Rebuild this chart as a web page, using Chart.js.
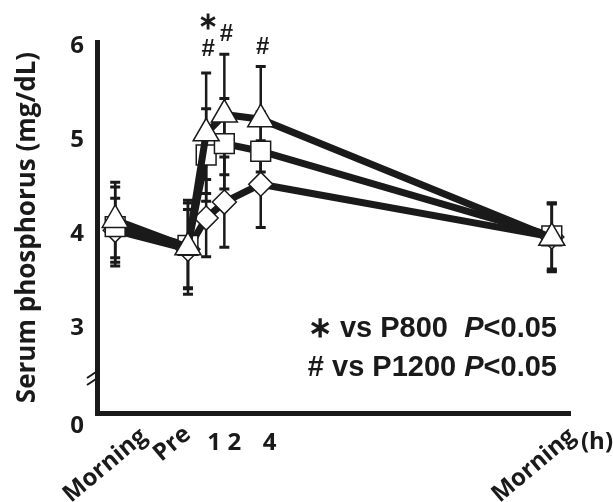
<!DOCTYPE html>
<html>
<head>
<meta charset="utf-8">
<script src="https://cdn.jsdelivr.net/npm/chart.js@4.4.0/dist/chart.umd.min.js"></script>
<style>
   html, body { margin: 0; padding: 0; background: #fff; }
   #wrap { width: 613px; height: 502px; }
</style>
</head>
<body>
<div id="wrap"><canvas id="phosChart"></canvas></div>
<script>
// time points (h) and their labels
const hours = [-4, 0, 1, 2, 4, 20];
const xTickLabels = ["Morning", "Pre", "1", "2", "4", "Morning"];
const yTickValues = [3, 4, 5, 6];

// serum phosphorus, mean and SD (mg/dL)
const p800Mean  = [4.04, 3.84, 4.17, 4.34, 4.53, 3.97];
const p800Sd    = [0.34, 0.42, 0.41, 0.48, 0.46, 0.36];
const p1200Mean = [4.08, 3.88, 4.84, 4.96, 4.88, 3.98];
const p1200Sd   = [0.42, 0.45, 0.49, 0.48, 0.42, 0.35];
const p1600Mean = [4.15, 3.86, 5.07, 5.27, 5.22, 3.96];
const p1600Sd   = [0.40, 0.50, 0.64, 0.64, 0.56, 0.36];

// significance marks above P1600
const sigHours  = [1, 1, 2, 4];
const sigValues = [6.25, 5.96, 6.12, 5.98];
const sigMarks  = ["\u2217", "#", "#", "#"];

const ink = "#1a1a1a";
const labelFont = "'Open Sans', sans-serif";
const keyFont = "'Liberation Sans', Arial, sans-serif";

function toPoints(means) {
   return hours.map((h, i) => ({ x: h, y: means[i] }));
}

// error bars go under the lines and markers
const errorBarPlugin = {
   id: "errorBars",
   beforeDatasetsDraw(chart) {
      const ctx = chart.ctx;
      const xs = chart.scales.x, ys = chart.scales.y;
      ctx.save();
      ctx.strokeStyle = ink;
      chart.data.datasets.forEach(ds => {
         ds.sd.forEach((s, i) => {
            const px = xs.getPixelForValue(ds.data[i].x);
            const top = ys.getPixelForValue(ds.data[i].y + s);
            const bot = ys.getPixelForValue(ds.data[i].y - s);
            ctx.lineWidth = 2.5;
            ctx.beginPath();
            ctx.moveTo(px, top);
            ctx.lineTo(px, bot);
            ctx.stroke();
            ctx.lineWidth = 3;
            ctx.beginPath();
            ctx.moveTo(px - 5, top); ctx.lineTo(px + 5, top);
            ctx.moveTo(px - 5, bot); ctx.lineTo(px + 5, bot);
            ctx.stroke();
         });
      });
      ctx.restore();
   }
};

// axis texts, break mark and notes
const decorPlugin = {
   id: "decor",
   afterDraw(chart) {
      const ctx = chart.ctx;
      const xs = chart.scales.x, ys = chart.scales.y;
      const area = chart.chartArea;
      ctx.save();
      ctx.fillStyle = ink;

      // x labels: words slanted, hours upright
      const shift = [21, -8, 8, 10, 9, 13];
      const drop = [11, 9, 30, 30, 30, 11];
      xTickLabels.forEach((lab, i) => {
         const px = xs.getPixelForValue(hours[i]) + shift[i];
         ctx.font = "bold 24px " + labelFont;
         if (isNaN(lab)) {
            ctx.save();
            ctx.translate(px, area.bottom + drop[i]);
            ctx.rotate(-40 * Math.PI / 180);
            ctx.textAlign = "right";
            ctx.textBaseline = "top";
            ctx.fillText(lab, 0, 0);
            ctx.restore();
         } else {
            ctx.textAlign = "center";
            ctx.textBaseline = "middle";
            ctx.fillText(lab, px, area.bottom + drop[i]);
         }
      });
      ctx.textAlign = "center";
      ctx.textBaseline = "middle";
      ctx.fillText("(h)", 597, area.bottom + 29);

      // "0" at the foot of the broken axis
      ctx.textAlign = "right";
      ctx.fillText("0", area.left - 13, area.bottom + 13);

      // axis break
      ctx.strokeStyle = ink;
      ctx.lineWidth = 2;
      ctx.beginPath();
      ctx.moveTo(area.left - 10, area.bottom - 35); ctx.lineTo(area.left + 2, area.bottom - 43);
      ctx.moveTo(area.left - 10, area.bottom - 28); ctx.lineTo(area.left + 2, area.bottom - 36);
      ctx.stroke();

      // significance marks
      ctx.font = "bold 24px " + keyFont;
      ctx.textAlign = "center";
      sigMarks.forEach((m, i) => {
         ctx.fillText(m, xs.getPixelForValue(sigHours[i]) + 2, ys.getPixelForValue(sigValues[i]));
      });

      // key, both rows share the left edge of the second
      const right = 557;
      const size = 29;
      ctx.font = "bold " + size + "px " + keyFont;
      const tailW = ctx.measureText("<0.05").width;
      const headW = ctx.measureText("# vs P1200 ").width;
      ctx.font = "italic bold " + size + "px " + keyFont;
      const pW = ctx.measureText("P").width;
      const left = right - tailW - pW - headW;
      const rows = [["\u2217 vs P800", 329], ["# vs P1200", 368]];
      rows.forEach(([txt, y]) => {
         ctx.font = "bold " + size + "px " + keyFont;
         ctx.textAlign = "left";
         ctx.fillText(txt, left, y);
         ctx.textAlign = "right";
         ctx.fillText("<0.05", right, y);
         ctx.font = "italic bold " + size + "px " + keyFont;
         ctx.fillText("P", right - tailW, y);
      });
      ctx.restore();
   }
};

const lineStyle = {
   borderColor: ink,
   borderWidth: 7,
   tension: 0,
   pointBackgroundColor: "#fff",
   pointBorderColor: ink,
   pointBorderWidth: 1.5,
   clip: false
};

const ctx = document.getElementById("phosChart").getContext("2d");
const phosChart = new Chart(ctx, {
   type: "line",
   data: {
      datasets: [
         Object.assign({ label: "P1600", data: toPoints(p1600Mean), sd: p1600Sd, pointStyle: "triangle", pointRadius: 15, order: 0 }, lineStyle),
         Object.assign({ label: "P1200", data: toPoints(p1200Mean), sd: p1200Sd, pointStyle: "rect", pointRadius: 14, order: 1 }, lineStyle),
         Object.assign({ label: "P800", data: toPoints(p800Mean), sd: p800Sd, pointStyle: "rectRot", pointRadius: 12, order: 2 }, lineStyle)
      ]
   },
   options: {
      responsive: true,
      maintainAspectRatio: false,
      animation: false,
      layout: { padding: { top: 42, right: 43, left: 0, bottom: 0 } },
      plugins: {
         legend: { display: false },
         tooltip: { enabled: false }
      },
      scales: {
         x: {
            type: "linear",
            min: -5,
            max: 21,
            grid: { display: false, drawTicks: false },
            border: { display: true, color: ink, width: 5 },
            ticks: { display: false },
            afterFit(scale) { scale.height = 89; }
         },
         y: {
            type: "linear",
            min: 2.1,
            max: 6.04,
            grid: { display: false, drawTicks: false },
            border: { display: true, color: ink, width: 5 },
            afterBuildTicks(scale) { scale.ticks = yTickValues.map(v => ({ value: v })); },
            ticks: {
               padding: 13,
               color: ink,
               font: { family: "'Open Sans', sans-serif", size: 24, weight: "bold" }
            },
            title: {
               display: true,
               text: "Serum phosphorus (mg/dL)",
               color: ink,
               padding: { top: 12, bottom: 0 },
               font: { family: "'Open Sans', sans-serif", size: 26, weight: "bold" }
            },
            afterFit(scale) { scale.width = 97; }
         }
      }
   },
   plugins: [errorBarPlugin, decorPlugin]
});
</script>
</body>
</html>
